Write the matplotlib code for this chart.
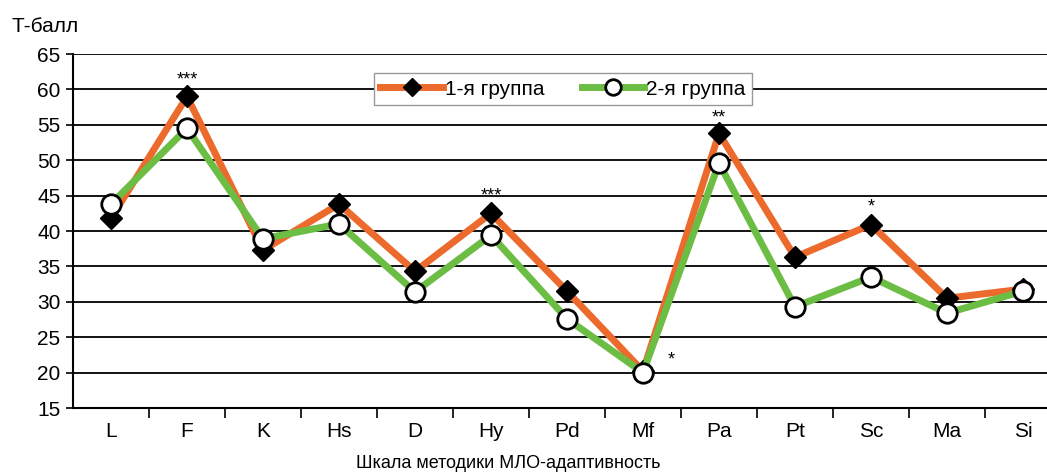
import matplotlib
matplotlib.use("Agg")
import matplotlib.pyplot as plt

plt.rcParams['font.family'] = ['Liberation Sans', 'DejaVu Sans']

categories = ["L", "F", "K", "Hs", "D", "Hy", "Pd", "Mf", "Pa", "Pt", "Sc", "Ma", "Si"]
group1 = [41.8, 59.0, 37.3, 43.8, 34.3, 42.5, 31.5, 20.2, 53.8, 36.3, 40.9, 30.5, 31.8]
group2 = [43.8, 54.5, 38.9, 41.0, 31.4, 39.4, 27.6, 20.0, 49.6, 29.3, 33.5, 28.4, 31.5]
labels = ["1-я группа", "2-я группа"]
sig_text = ["", "***", "", "", "", "***", "", "*", "**", "", "*", "", ""]
sig_y = [None, 61.4, None, None, None, 44.9, None, 21.8, 56.0, None, 43.4, None, None]
yticks = [15, 20, 25, 30, 35, 40, 45, 50, 55, 60, 65]

fig = plt.figure(figsize=(10.47, 4.74), dpi=100)
ax = fig.add_axes([73/1047, 1-408/474, (1061-73)/1047, (408-54)/474])

x = list(range(len(categories)))
ax.plot(x, group1, color='#EC6A2C', lw=5, marker='D', ms=11,
        mfc='black', mec='black', label=labels[0], zorder=3)
ax.plot(x, group2, color='#6CBD43', lw=5, marker='o', ms=14,
        mfc='white', mec='black', mew=2, label=labels[1], zorder=4)

for i, (t, yv) in enumerate(zip(sig_text, sig_y)):
    if t:
        dx = 0.37 if categories[i] == "Mf" else 0
        ax.text(i + dx, yv, t, ha='center', va='center', fontsize=13, zorder=5)

ax.set_xlim(-0.5, len(categories) - 0.5)
ax.set_ylim(15, 65)
ax.set_yticks(yticks)
ax.tick_params(axis='y', labelsize=15, length=5, width=1.2, direction='out', pad=4)
ax.set_xticks([i + 0.5 for i in range(len(categories) - 1)])
ax.set_xticklabels([])
ax.tick_params(axis='x', which='major', length=7, width=1.2, direction='out')
ax.set_xticks(x, minor=True)
ax.set_xticklabels(categories, minor=True)
ax.tick_params(axis='x', which='minor', length=0, labelsize=15, pad=10)

ax.grid(axis='y', color='black', lw=1.3, zorder=1)
ax.set_axisbelow(True)
for s in ['top', 'right']:
    ax.spines[s].set_visible(False)
for s in ['left', 'bottom']:
    ax.spines[s].set_linewidth(1.5)

leg = ax.legend(loc='upper center', bbox_to_anchor=(0.496, 0.975), ncol=2,
                fontsize=15, handlelength=3, fancybox=False, framealpha=1,
                edgecolor='#999999', borderpad=0.3, columnspacing=1.8,
                handletextpad=0.1, markerscale=0.8)
leg.get_frame().set_linewidth(1)

fig.text(12/1047, 1-26/474, "Т-балл", fontsize=15, va='center', ha='left')
fig.text(508/1047, 1-463/474, "Шкала методики МЛО-адаптивность", fontsize=13,
         va='center', ha='center')

fig.savefig("out.png", dpi=100)
